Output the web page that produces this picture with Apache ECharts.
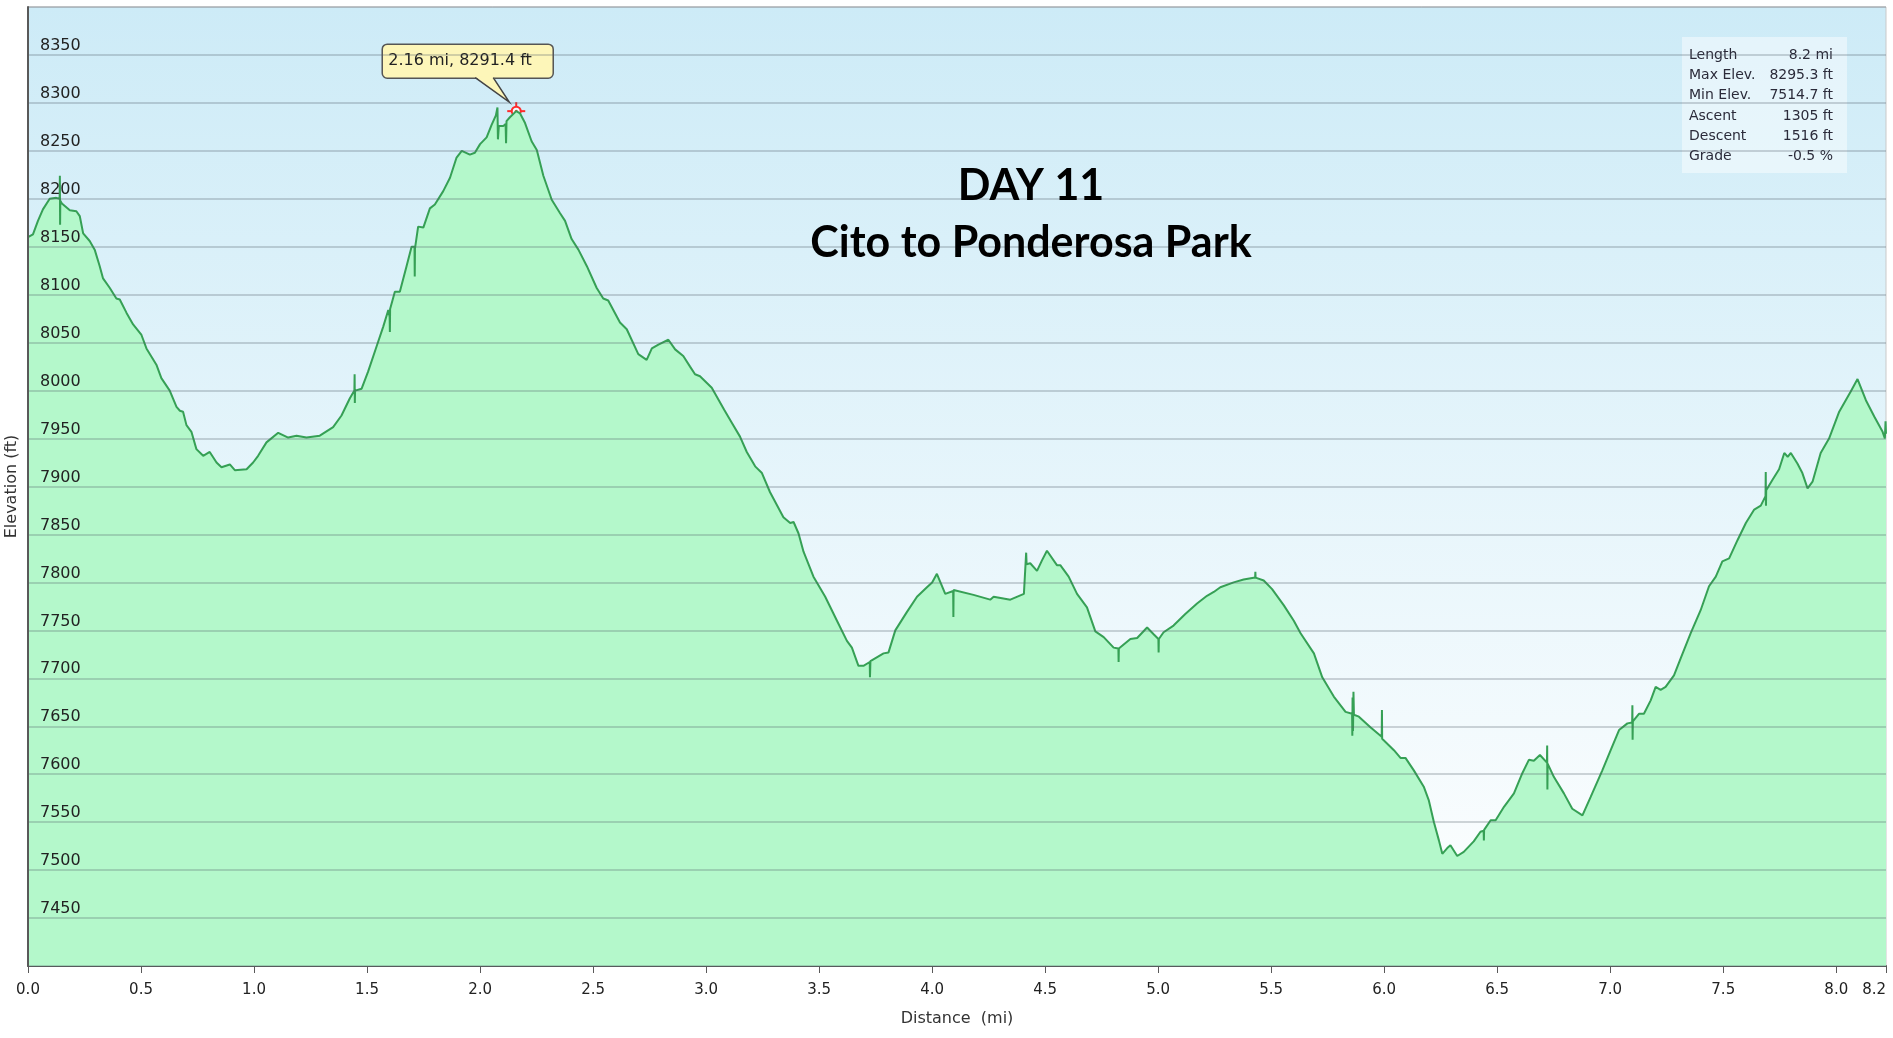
<!DOCTYPE html>
<html>
<head>
<meta charset="utf-8">
<script src="https://cdn.jsdelivr.net/npm/echarts@6/dist/echarts.min.js"></script>
<style>
  html, body { margin: 0; padding: 0; background: #ffffff; }
  #chart { width: 1893px; height: 1038px; }
</style>
</head>
<body>
<div id="chart"></div>
<script>
// Trail elevation profile: [distance (mi), elevation (ft)]
const profile = [
  [0.000,8160],[0.022,8163],[0.044,8177],[0.066,8189],[0.096,8200],[0.125,8201],
  [0.140,8200],[0.141,8224],[0.142,8173],[0.143,8198],[0.150,8195],[0.185,8188],
  [0.214,8187],[0.229,8182],[0.244,8164],[0.273,8156],[0.295,8147],[0.317,8130],
  [0.332,8117],[0.362,8107],[0.391,8096],[0.406,8095],[0.436,8081],[0.465,8069],
  [0.502,8058],[0.524,8044],[0.568,8027],[0.590,8013],[0.627,8000],[0.657,7983],
  [0.672,7979],[0.686,7978],[0.701,7964],[0.723,7957],[0.745,7939],[0.775,7932],
  [0.804,7936],[0.834,7925],[0.856,7920],[0.893,7923],[0.915,7917],[0.967,7918],
  [0.996,7925],[1.018,7932],[1.055,7946],[1.107,7956],[1.151,7951],[1.188,7953],
  [1.232,7951],[1.291,7953],[1.350,7962],[1.387,7974],[1.424,7992],[1.444,8000],
  [1.445,8017],[1.446,7987],[1.447,8000],[1.476,8002],[1.505,8020],[1.542,8046],
  [1.572,8067],[1.594,8084],[1.600,8077],[1.601,8061],[1.602,8085],[1.623,8103],
  [1.645,8103],[1.675,8130],[1.697,8150],[1.710,8150],[1.711,8119],[1.712,8148],
  [1.726,8171],[1.749,8170],[1.778,8190],[1.800,8194],[1.837,8208],[1.867,8222],
  [1.896,8243],[1.919,8250],[1.955,8246],[1.977,8248],[2.000,8257],[2.029,8264],
  [2.051,8277],[2.070,8287],[2.077,8295.3],[2.079,8262],[2.083,8276],[2.103,8276],
  [2.113,8278],[2.115,8258],[2.117,8281],[2.132,8285],[2.160,8291.4],[2.177,8289],
  [2.199,8279],[2.228,8260],[2.251,8251],[2.280,8224],[2.317,8199],[2.354,8185],
  [2.376,8177],[2.405,8158],[2.435,8147],[2.472,8130],[2.516,8107],[2.545,8096],
  [2.567,8094],[2.619,8071],[2.649,8064],[2.700,8038],[2.737,8032],[2.760,8044],
  [2.789,8048],[2.833,8053],[2.863,8043],[2.899,8036],[2.929,8025],[2.951,8017],
  [2.973,8015],[3.025,8003],[3.080,7980],[3.115,7966],[3.150,7952],[3.180,7936],
  [3.217,7921],[3.247,7914],[3.283,7894],[3.342,7868],[3.372,7862],[3.387,7863],
  [3.409,7851],[3.431,7832],[3.475,7806],[3.527,7785],[3.579,7760],[3.623,7739],
  [3.645,7732],[3.674,7713],[3.696,7713],[3.724,7717],[3.725,7701],[3.727,7718],
  [3.785,7726],[3.807,7727],[3.837,7750],[3.888,7769],[3.933,7785],[3.977,7795],
  [4.000,7800],[4.021,7809],[4.058,7788],[4.093,7791],[4.094,7764],[4.095,7792],
  [4.183,7787],[4.257,7782],[4.272,7785],[4.346,7782],[4.406,7788],[4.416,7831],
  [4.418,7819],[4.434,7820],[4.464,7812],[4.486,7823],[4.508,7833],[4.552,7818],
  [4.567,7818],[4.604,7806],[4.641,7788],[4.685,7774],[4.722,7749],[4.759,7743],
  [4.803,7732],[4.824,7731],[4.825,7717],[4.826,7731],[4.877,7741],[4.907,7742],
  [4.951,7753],[4.980,7746],[5.001,7741],[5.002,7727],[5.003,7741],[5.024,7748],
  [5.068,7755],[5.120,7767],[5.172,7778],[5.216,7786],[5.246,7790],[5.275,7795],
  [5.334,7800],[5.378,7803],[5.429,7805],[5.430,7811],[5.431,7805],[5.467,7802],
  [5.504,7793],[5.556,7776],[5.600,7760],[5.630,7747],[5.689,7726],[5.726,7701],
  [5.777,7681],[5.829,7665],[5.858,7663],[5.859,7640],[5.860,7680],[5.862,7645],
  [5.864,7686],[5.866,7662],[5.888,7660],[5.939,7649],[5.989,7639],[5.990,7667],
  [5.991,7637],[6.043,7625],[6.072,7617],[6.094,7617],[6.131,7604],[6.175,7587],
  [6.197,7573],[6.220,7550],[6.242,7531],[6.257,7517],[6.279,7523],[6.293,7526],
  [6.323,7514.7],[6.352,7519],[6.396,7530],[6.426,7540],[6.440,7541],[6.441,7531],
  [6.442,7542],[6.471,7552],[6.493,7552],[6.530,7566],[6.574,7580],[6.611,7601],
  [6.640,7615],[6.662,7614],[6.689,7620],[6.720,7612],[6.721,7630],[6.722,7584],
  [6.723,7611],[6.751,7597],[6.795,7580],[6.832,7564],[6.877,7557],[6.913,7576],
  [6.965,7604],[7.002,7625],[7.039,7646],[7.076,7653],[7.097,7654],[7.098,7672],
  [7.099,7636],[7.100,7655],[7.127,7663],[7.149,7663],[7.179,7677],[7.201,7691],
  [7.223,7688],[7.245,7691],[7.282,7703],[7.312,7721],[7.356,7747],[7.400,7771],
  [7.437,7796],[7.467,7806],[7.496,7822],[7.526,7825],[7.563,7844],[7.600,7862],
  [7.637,7876],[7.666,7880],[7.687,7890],[7.688,7915],[7.689,7880],[7.690,7896],
  [7.718,7907],[7.747,7918],[7.770,7935],[7.785,7931],[7.799,7935],[7.828,7924],
  [7.850,7914],[7.873,7898],[7.895,7905],[7.931,7935],[7.968,7950],[8.013,7978],
  [8.064,7999],[8.094,8012],[8.131,7990],[8.168,7973],[8.205,7957],[8.215,7950],
  [8.218,7968],[8.220,7955]
];

// Highlighted point on the profile
const highlight = [2.16, 8291.4];
const highlightLabel = '2.16 mi, 8291.4 ft';

// Summary statistics
const statLabels = ['Length', 'Max Elev.', 'Min Elev.', 'Ascent', 'Descent', 'Grade'];
const statValues = ['8.2 mi', '8295.3 ft', '7514.7 ft', '1305 ft', '1516 ft', '-0.5 %'];

// Heading lines
const titleLines = ['DAY 11', 'Cito to Ponderosa Park'];

const axisFont = '"DejaVu Sans", Verdana, sans-serif';

const chart = echarts.init(document.getElementById('chart'), null, { renderer: 'canvas' });

const option = {
  animation: false,
  backgroundColor: '#ffffff',
  grid: {
    left: 28, right: 7, top: 7, bottom: 72,
    containLabel: false,
    outerBoundsMode: 'none',
    show: true,
    borderColor: '#c9c9c9',
    borderWidth: 1,
    backgroundColor: new echarts.graphic.LinearGradient(0, 0, 0, 1, [
      { offset: 0, color: '#cdebf7' },
      { offset: 1, color: '#ffffff' }
    ])
  },
  xAxis: {
    type: 'value',
    min: 0, max: 8.22, interval: 0.5,
    name: 'Distance  (mi)',
    nameLocation: 'middle',
    nameGap: 45,
    nameTextStyle: { fontFamily: axisFont, fontSize: 16, color: '#333' },
    axisLine: { show: true, onZero: false, lineStyle: { color: '#595959', width: 2 } },
    axisTick: { show: true, length: 7, lineStyle: { color: '#595959', width: 1 } },
    axisLabel: {
      formatter: v => v.toFixed(1),
      fontFamily: axisFont, fontSize: 15, color: '#222', margin: 17,
      showMinLabel: true, showMaxLabel: true,
      alignMaxLabel: 'right'
    },
    splitLine: { show: false }
  },
  yAxis: {
    type: 'value',
    min: 7400, max: 8400, interval: 50,
    z: 3,
    name: 'Elevation (ft)',
    nameLocation: 'middle',
    nameRotate: 90,
    nameGap: 6,
    nameTextStyle: { fontFamily: axisFont, fontSize: 16, color: '#333' },
    axisLine: { show: true, onZero: false, lineStyle: { color: '#595959', width: 2 } },
    axisTick: { show: false },
    axisLabel: {
      inside: true, margin: 12,
      formatter: v => String(v),
      verticalAlign: 'bottom', padding: [0, 0, 1, 0],
      fontFamily: axisFont, fontSize: 16, color: '#222',
      showMinLabel: false, showMaxLabel: false
    },
    splitLine: { show: true, lineStyle: { color: 'rgba(80,95,105,0.35)', width: 1.5 } }
  },
  series: [{
    type: 'line',
    data: profile,
    showSymbol: false,
    symbol: 'none',
    silent: true,
    z: 2,
    lineStyle: { color: '#36a055', width: 2 },
    areaStyle: { color: '#b4f8cb', opacity: 1 }
  }]
};

chart.setOption(option);

// Callout and crosshair on the highlighted point, placed through the axes
const [px, py] = chart.convertToPixel({ gridIndex: 0 }, highlight);

const statRowY = [55, 75, 95, 116, 136, 156];
const statChildren = [{
  type: 'rect',
  shape: { x: 0, y: 0, width: 165, height: 136 },
  style: { fill: 'rgba(255,255,255,0.45)' }
}];
statLabels.forEach((lab, i) => {
  statChildren.push({
    type: 'text',
    style: { text: lab, x: 7, y: statRowY[i] - 37, font: '14px ' + axisFont, fill: '#2b2b3a',
             align: 'left', verticalAlign: 'middle' }
  });
  statChildren.push({
    type: 'text',
    style: { text: statValues[i], x: 151, y: statRowY[i] - 37, font: '14px ' + axisFont, fill: '#2b2b3a',
             align: 'right', verticalAlign: 'middle' }
  });
});

chart.setOption({
  graphic: [
    // heading
    {
      type: 'text', z: 20,
      style: { text: titleLines[0], x: 1031, y: 186, font: 'bold 43px Lato, sans-serif', fill: '#000',
               align: 'center', verticalAlign: 'middle' }
    },
    {
      type: 'text', z: 20,
      style: { text: titleLines[1], x: 1031, y: 243, font: 'bold 43px Lato, sans-serif', fill: '#000',
               align: 'center', verticalAlign: 'middle' }
    },
    // statistics panel
    { type: 'group', x: 1682, y: 37, z: 20, children: statChildren },
    // callout
    {
      type: 'group', x: px, y: py, z: 30,
      children: [
        {
          type: 'rect',
          shape: { x: -134, y: -67, width: 171, height: 34, r: 5 },
          style: { fill: '#fdf6b9', stroke: '#555', lineWidth: 1.5 }
        },
        {
          type: 'polygon',
          shape: { points: [[-41, -34.5], [-7, -9], [-23, -34.5]] },
          style: { fill: '#fdf6b9' }
        },
        {
          type: 'polyline',
          shape: { points: [[-41, -33.5], [-7, -9], [-23, -33.5]] },
          style: { stroke: '#444', lineWidth: 1.5, fill: null }
        },
        {
          type: 'text',
          style: { text: highlightLabel, x: -128, y: -50, font: '16px ' + axisFont, fill: '#222',
                   align: 'left', verticalAlign: 'middle' }
        },
        // crosshair marker
        {
          type: 'circle', shape: { cx: 0, cy: 0, r: 4.5 },
          style: { fill: 'rgba(255,255,255,0.7)', stroke: '#ff2b2b', lineWidth: 2 }
        },
        { type: 'circle', shape: { cx: 0, cy: 0, r: 1.5 }, style: { fill: '#ff2b2b' } },
        { type: 'line', shape: { x1: -9, y1: 0, x2: -4.5, y2: 0 }, style: { stroke: '#ff2b2b', lineWidth: 2 } },
        { type: 'line', shape: { x1: 4.5, y1: 0, x2: 9, y2: 0 }, style: { stroke: '#ff2b2b', lineWidth: 2 } },
        { type: 'line', shape: { x1: 0, y1: -9, x2: 0, y2: -4.5 }, style: { stroke: '#ff2b2b', lineWidth: 2 } },
        { type: 'line', shape: { x1: 0, y1: 4.5, x2: 0, y2: 9 }, style: { stroke: '#ff2b2b', lineWidth: 2 } }
      ]
    }
  ]
});
</script>
</body>
</html>
